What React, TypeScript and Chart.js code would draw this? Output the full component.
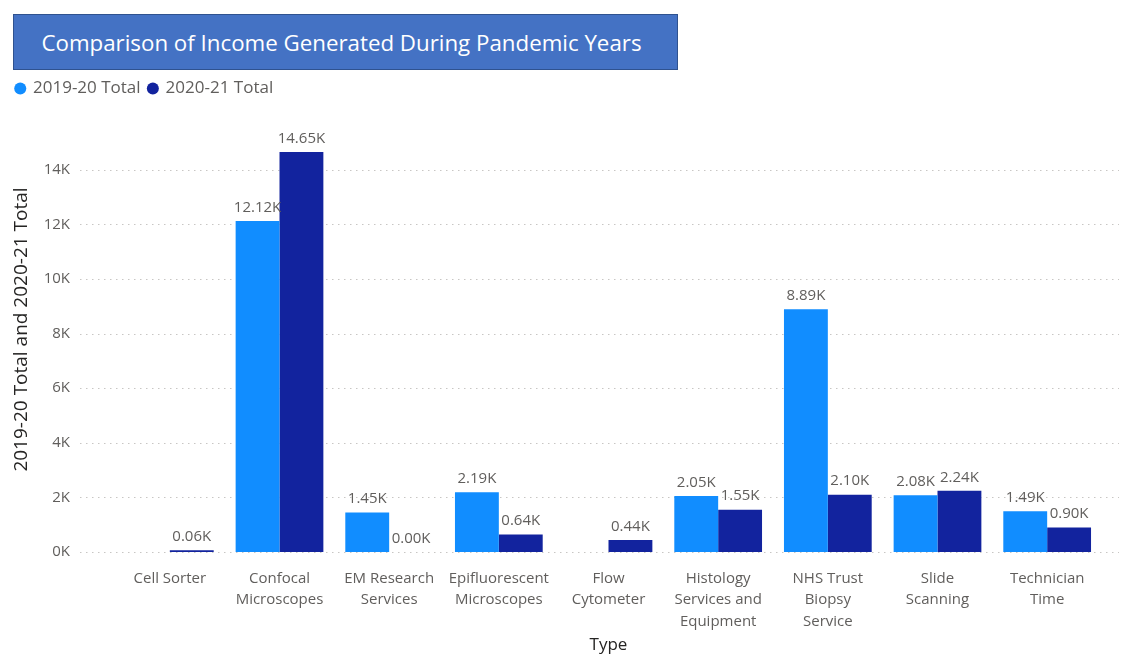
import React, { useEffect, useRef } from "react";
import { Chart, registerables } from "chart.js";

Chart.register(...registerables);

const categories: string[][] = [
  ["Cell Sorter"],
  ["Confocal", "Microscopes"],
  ["EM Research", "Services"],
  ["Epifluorescent", "Microscopes"],
  ["Flow", "Cytometer"],
  ["Histology", "Services and", "Equipment"],
  ["NHS Trust", "Biopsy", "Service"],
  ["Slide", "Scanning"],
  ["Technician", "Time"],
];

const total2019: (number | null)[] = [null, 12120, 1450, 2190, null, 2050, 8890, 2080, 1490];
const total2020: (number | null)[] = [60, 14650, 0, 640, 440, 1550, 2100, 2240, 900];

const yTickValues: number[] = [0, 2000, 4000, 6000, 8000, 10000, 12000, 14000];

const seriesNames = ["2019-20 Total", "2020-21 Total"];
const titleText = "Comparison of Income Generated During Pandemic Years";
const yTitle = "2019-20 Total and 2020-21 Total";
const xTitle = "Type";

const LIGHT = "#118DFF";
const DARK = "#12239E";
const GRAY = "#605E5C";
const FONT = "'Open Sans', 'Noto Sans', sans-serif";

const gridPlugin = {
  id: "dottedGrid",
  beforeDatasetsDraw(chart: any) {
    const ctx = chart.ctx;
    const y = chart.scales.y;
    ctx.save();
    ctx.strokeStyle = "#C8C6C4";
    ctx.lineWidth = 1;
    ctx.setLineDash([1.5, 4.5]);
    y.ticks.forEach((t: any) => {
      const py = Math.round(y.getPixelForValue(t.value)) + 0.5;
      ctx.beginPath();
      ctx.moveTo(80, py);
      ctx.lineTo(chart.width - 2, py);
      ctx.stroke();
    });
    ctx.restore();
  },
};

const labelPlugin = {
  id: "barLabels",
  afterDatasetsDraw(chart: any) {
    const ctx = chart.ctx;
    ctx.save();
    ctx.font = `15px ${FONT}`;
    ctx.fillStyle = GRAY;
    ctx.textAlign = "center";
    ctx.textBaseline = "bottom";
    chart.data.datasets.forEach((ds: any, i: number) => {
      const meta = chart.getDatasetMeta(i);
      meta.data.forEach((bar: any, j: number) => {
        const v = ds.data[j];
        if (v === null || v === undefined) return;
        ctx.fillText((v / 1000).toFixed(2) + "K", bar.x, bar.y - 6);
      });
    });
    ctx.restore();
  },
};

export default function App() {
  const ref = useRef<HTMLCanvasElement>(null);
  useEffect(() => {
    if (!ref.current) return;
    const chart = new Chart(ref.current, {
      type: "bar",
      data: {
        labels: categories,
        datasets: [
          { label: seriesNames[0], data: total2019, backgroundColor: LIGHT, categoryPercentage: 0.8, barPercentage: 1.0 },
          { label: seriesNames[1], data: total2020, backgroundColor: DARK, categoryPercentage: 0.8, barPercentage: 1.0 },
        ],
      },
      options: {
        animation: false,
        responsive: false,
        layout: { padding: { top: 72, left: 8, right: 19, bottom: 0 } },
        plugins: {
          legend: {
            position: "top",
            align: "start",
            labels: {
              usePointStyle: true,
              pointStyle: "circle",
              boxWidth: 8.5,
              boxHeight: 8.5,
              padding: 8,
              color: GRAY,
              font: { family: FONT, size: 17 },
            },
          },
          tooltip: { enabled: false },
        },
        scales: {
          x: {
            grid: { display: false, drawTicks: false },
            border: { display: false },
            afterFit: (scale: any) => {
              scale.height = 103;
            },
            ticks: { color: GRAY, font: { family: FONT, size: 15, lineHeight: 1.43 }, padding: 16, maxRotation: 0, autoSkip: false },
            title: { display: true, text: xTitle, color: "#252423", font: { family: FONT, size: 17 }, padding: { top: 2, bottom: 0 } },
          },
          y: {
            min: 0,
            max: 16300,
            grid: { display: false, drawTicks: false },
            border: { display: false },
            afterFit: (scale: any) => {
              scale.width = 107;
            },
            afterBuildTicks: (scale: any) => {
              scale.ticks = yTickValues.map((v) => ({ value: v }));
            },
            ticks: {
              color: GRAY,
              padding: 45,
              font: { family: FONT, size: 15 },
              callback: (v: any) => Number(v) / 1000 + "K",
            },
            title: { display: true, text: yTitle, color: "#252423", font: { family: FONT, size: 19 }, padding: { top: 2, bottom: 8 } },
          },
        },
      },
      plugins: [gridPlugin, labelPlugin],
    });
    return () => chart.destroy();
  }, []);

  return (
    <div style={{ position: "fixed", left: 0, top: 0, width: 1121, height: 655, background: "#fff" }}>
      <canvas ref={ref} width={1121} height={655} style={{ position: "absolute", left: 0, top: 0 }} />
      <div
        style={{
          position: "absolute",
          left: 13,
          top: 14,
          width: 663,
          height: 54,
          boxSizing: "content-box",
          background: "#4472C4",
          border: "1px solid #2F528F",
          color: "#fff",
          fontFamily: FONT,
          fontSize: 22.3,
          display: "flex",
          alignItems: "center",
          justifyContent: "center",
          whiteSpace: "nowrap",
        }}
      >
        <span style={{ marginRight: 8 }}>{titleText}</span>
      </div>
    </div>
  );
}
